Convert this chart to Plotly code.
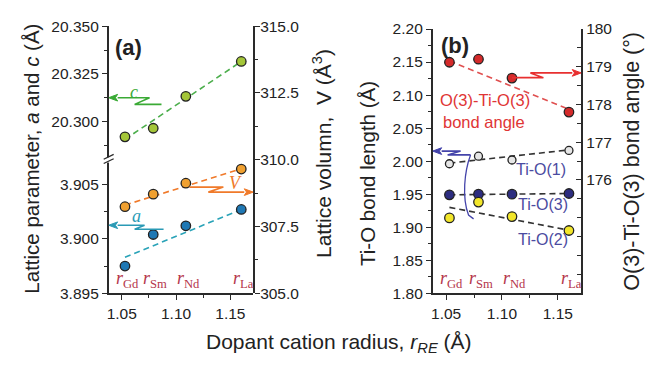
import plotly.graph_objects as go

W, H = 659, 368

# Ionic radii of the rare-earth dopants (Å)
radius = [1.053, 1.079, 1.109, 1.160]
dopants = ["Gd", "Sm", "Nd", "La"]

# Panel (a): lattice parameters c, a and cell volume V
c_param = [20.2920, 20.2965, 20.3132, 20.3315]
a_param = [3.8975, 3.9004, 3.9012, 3.9027]
volume = [308.24, 308.71, 309.12, 309.65]

# Linear trend lines, given at r_Gd and r_La
fit_x = [1.053, 1.160]
c_fit = [20.2907, 20.3315]
a_fit = [3.8983, 3.9027]
v_fit = [308.30, 309.66]

# Panel (b): Ti-O bond lengths and O(3)-Ti-O(3) bond angle
angle = [179.12, 179.20, 178.70, 177.80]
ti_o1 = [1.996, 2.0075, 2.0017, 2.0162]
ti_o3 = [1.949, 1.950, 1.950, 1.951]
ti_o2 = [1.914, 1.938, 1.916, 1.895]
angle_fit = [179.15, 177.87]
ti_o1_fit = [1.997, 2.017]
ti_o3_fit = [1.949, 1.951]
ti_o2_fit = [1.930, 1.8955]

# Tick values
x_ticks = [1.05, 1.10, 1.15]
c_ticks = [20.300, 20.325, 20.350]
a_ticks = [3.895, 3.900, 3.905]
v_ticks = [305.0, 307.5, 310.0, 312.5, 315.0]
bond_ticks = [1.80, 1.85, 1.90, 1.95, 2.00, 2.05, 2.10, 2.15, 2.20]
angle_ticks = [176, 177, 178, 179, 180]

X_RANGE = [1.038, 1.171]
C_RANGE = [20.279, 20.350]
A_RANGE = [3.895, 3.9071]
V_RANGE = [305, 315]
BOND_RANGE = [1.80, 2.20]
ANGLE_RANGE = [173, 180]

PA_LEFT, PA_RIGHT = 107, 252      # panel (a) plot edges, px
PB_LEFT, PB_RIGHT = 432, 581      # panel (b) plot edges, px
P_BOTTOM, BREAK, TOP_A, TOP_B = 298, 160, 18, 21


def px(x):
    return x / W


def py(y):
    return 1 - y / H


SANS = "Liberation Sans, Arial, sans-serif"
SERIF = "Liberation Serif, Times New Roman, serif"
AX = "#2a2a2a"
INK = "#222222"

base = dict(showline=True, linecolor=AX, linewidth=1.6, ticks="outside", ticklen=5,
            tickwidth=1.3, tickcolor=AX, showgrid=False, zeroline=False,
            tickfont=dict(family=SANS, size=15.5, color=INK))


def minor(d, t0, side="outside", length=3):
    return dict(dtick=d, tick0=t0, ticks=side, ticklen=length, tickwidth=1.1, tickcolor=AX)


fig = go.Figure()


def add_fit(xs, ys, color, xa, ya):
    fig.add_trace(go.Scatter(x=xs, y=ys, mode="lines", xaxis=xa, yaxis=ya,
                             line=dict(color=color, width=1.6, dash="6px,4px"),
                             hoverinfo="skip", showlegend=False))


def add_pts(xs, ys, fill, xa, ya, size=9.5):
    fig.add_trace(go.Scatter(x=xs, y=ys, mode="markers", xaxis=xa, yaxis=ya,
                             marker=dict(size=size, color=fill,
                                         line=dict(color="#222222", width=1.3)),
                             showlegend=False))


# (a)
add_fit(fit_x, c_fit, "#4cae4c", "x", "y2")
add_fit(fit_x, v_fit, "#f07a2a", "x", "y3")
add_fit(fit_x, a_fit, "#2aa3b8", "x", "y")
add_pts(radius, c_param, "#a4c639", "x", "y2")
add_pts(radius, volume, "#f0a030", "x", "y3")
add_pts(radius, a_param, "#1f78b4", "x", "y")

# (b)
add_fit(fit_x, angle_fit, "#e05050", "x2", "y5")
add_fit(fit_x, ti_o1_fit, "#333333", "x2", "y4")
add_fit(fit_x, ti_o3_fit, "#333333", "x2", "y4")
add_fit(fit_x, ti_o2_fit, "#333333", "x2", "y4")
add_pts(radius, angle, "#d42a2a", "x2", "y5")
add_pts(radius, ti_o1, "#e6e6e6", "x2", "y4", size=8)
add_pts(radius, ti_o3, "#2d2d80", "x2", "y4")
add_pts(radius, ti_o2, "#f2e62a", "x2", "y4")

xa_dom = [px(PA_LEFT), px(PA_RIGHT)]
xb_dom = [px(PB_LEFT), px(PB_RIGHT)]
x_lbl = [f"{v:.2f}" for v in x_ticks]

fig.update_layout(
    width=W, height=H, margin=dict(l=0, r=0, t=0, b=0),
    paper_bgcolor="white", plot_bgcolor="rgba(0,0,0,0)",
    font=dict(family=SANS, color=INK),
    xaxis=dict(base, domain=xa_dom, range=X_RANGE, anchor="y", tickvals=x_ticks,
               ticktext=x_lbl, minor=minor(0.025, 1.0)),
    xaxis3=dict(base, overlaying="x", side="top", anchor="y2", range=X_RANGE,
                tickvals=x_ticks, showticklabels=False, ticks="inside",
                minor=minor(0.0125, 1.0, "inside")),
    yaxis=dict(base, domain=[py(P_BOTTOM), py(BREAK)], range=A_RANGE, anchor="x",
               tickvals=a_ticks, ticktext=[f"{v:.3f}" for v in a_ticks],
               minor=minor(0.0025, 3.895)),
    yaxis2=dict(base, domain=[py(BREAK), py(TOP_A)], range=C_RANGE, anchor="x",
                tickvals=c_ticks, ticktext=[f"{v:.3f}" for v in c_ticks],
                minor=minor(0.0125, 20.275)),
    yaxis3=dict(base, domain=[py(P_BOTTOM), py(TOP_A)], range=V_RANGE, anchor="x",
                side="right", tickvals=v_ticks, ticktext=[f"{v:.1f}" for v in v_ticks],
                ticklabelstandoff=-3, minor=minor(1.25, 305)),
    xaxis2=dict(base, domain=xb_dom, range=X_RANGE, anchor="y4", tickvals=x_ticks,
                ticktext=x_lbl, minor=minor(0.025, 1.0)),
    xaxis4=dict(base, overlaying="x2", side="top", anchor="y4", range=X_RANGE,
                tickvals=x_ticks, showticklabels=False, ticks="inside",
                minor=minor(0.0125, 1.0, "inside")),
    yaxis4=dict(base, domain=[py(P_BOTTOM), py(TOP_B)], range=BOND_RANGE, anchor="x2",
                tickvals=bond_ticks, ticktext=[f"{v:.2f}" for v in bond_ticks],
                minor=minor(0.025, 1.80)),
    yaxis5=dict(base, overlaying="y4", side="right", anchor="x2", range=ANGLE_RANGE,
                tickvals=angle_ticks, ticktext=[str(v) for v in angle_ticks],
                ticks="inside", minor=minor(0.5, 173, "inside", 4)),
)

ann = []


def text(x, y, s, size=15, color=INK, family=SANS, angle=0, xref="paper", yref="paper"):
    ann.append(dict(x=x, y=y, xref=xref, yref=yref, text=s, showarrow=False,
                    textangle=angle, xanchor="center", yanchor="middle",
                    font=dict(family=family, size=size, color=color)))


shapes = []


def pointer(points, color, xref, yref, head_dx, head_dy):
    """Polyline ending at the last point, with a filled arrowhead there."""
    *body, tip = points
    back = (tip[0] + head_dx, tip[1])
    d = "M " + " L ".join(f"{x},{y}" for x, y in body + [back])
    shapes.append(dict(type="path", path=d, xref=xref, yref=yref,
                       line=dict(color=color, width=1.6), layer="above"))
    head = (f"M {tip[0]},{tip[1]} L {back[0]},{tip[1] + head_dy} "
            f"L {back[0] - head_dx * 0.25},{tip[1]} L {back[0]},{tip[1] - head_dy} Z")
    shapes.append(dict(type="path", path=head, xref=xref, yref=yref, fillcolor=color,
                       line=dict(color=color, width=1), layer="above"))


def per_px(rng, lo_px, hi_px):
    return (rng[1] - rng[0]) / (hi_px - lo_px)


ux_a = per_px(X_RANGE, PA_LEFT, PA_RIGHT)
ux_b = per_px(X_RANGE, PB_LEFT, PB_RIGHT)
uy_c = per_px(C_RANGE, BREAK, TOP_A)
uy_a = per_px(A_RANGE, BREAK, P_BOTTOM)
uy_v = per_px(V_RANGE, TOP_A, P_BOTTOM)
uy_b = per_px(BOND_RANGE, TOP_B, P_BOTTOM)
uy_ang = per_px(ANGLE_RANGE, TOP_B, P_BOTTOM)

# axis titles
text(px(30), py(157), "Lattice parameter, <i>a</i> and <i>c</i> (Å)", size=20.5, angle=-90)
text(px(321), py(152), "Lattice volumn, &nbsp;V (Å<sup>3</sup>)", size=21, angle=-90)
text(px(366), py(172), "Ti-O bond length (Å)", size=20.5, angle=-90)
text(px(632), py(160), "O(3)-Ti-O(3) bond angle (°)", size=21.5, angle=-90)
text(px(338), py(350), "Dopant cation radius, <i>r</i><sub><i>RE</i></sub> (Å)", size=21)

# panel tags
text(px(127), py(40), "<b>(a)</b>", size=22, color=INK)
text(px(454), py(38), "<b>(b)</b>", size=22, color=INK)

# dopant radius markers along the bottom of each panel
for xr in ("x", "x2"):
    for r, d in zip(radius, dopants):
        text(r + 0.002, py(284), f"<i>r</i><sub>{d}</sub>", size=18, color="#b5364b",
             family=SERIF, xref=xr)

# series labels in (a)
text(px(132), py(87), "<i>c</i>", size=18, color="#3aaa35", family=SERIF)
text(px(135), py(217), "<i>a</i>", size=18, color="#2a9ab5", family=SERIF)
text(px(234), py(182), "<i>V</i>", size=18, color="#f07a2a", family=SERIF)

# series labels in (b)
text(px(484), py(95), "O(3)-Ti-O(3)", size=16.5, color="#e03535")
text(px(483), py(118), "bond angle", size=16.5, color="#e03535")
text(px(541), py(168), "Ti-O(1)", size=16, color="#4b4ba0")
text(px(543), py(205), "Ti-O(3)", size=16, color="#4b4ba0")
text(px(543), py(242), "Ti-O(2)", size=16, color="#4b4ba0")

HEAD_LEN, HEAD_HALF = 9, 3.5

# c -> left axis
pointer([(1.0866, 20.3090), (1.0619, 20.3090), (1.0756, 20.3125), (X_RANGE[0], 20.3125)],
        "#3aaa35", "x", "y2", HEAD_LEN * ux_a, HEAD_HALF * uy_c)
# a -> left axis
pointer([(1.0885, 3.90088), (1.0619, 3.90088), (1.0710, 3.90125), (X_RANGE[0], 3.90125)],
        "#2a9ab5", "x", "y", HEAD_LEN * ux_a, HEAD_HALF * uy_a)
# V -> right axis
pointer([(1.1123, 308.975), (1.1435, 308.975), (1.1297, 308.786), (X_RANGE[1], 308.786)],
        "#f07a2a", "x", "y3", -HEAD_LEN * ux_a, HEAD_HALF * uy_v)
# bond angle -> right axis
pointer([(1.109, 178.712), (1.1371, 178.712), (1.1255, 178.838), (X_RANGE[1], 178.838)],
        "#e83030", "x2", "y5", -HEAD_LEN * ux_b, HEAD_HALF * uy_ang)
# bond lengths -> left axis, with bracket joining the three series
pointer([(1.0719, 2.0094), (1.0514, 2.0094), (1.0630, 2.0152), (X_RANGE[0], 2.0152)],
        "#4444aa", "x2", "y4", HEAD_LEN * ux_b, HEAD_HALF * uy_b)
shapes.append(dict(type="path", xref="x2", yref="y4", layer="above",
                   path="M 1.0719,2.0094 C 1.0665,1.985 1.0640,1.945 1.0701,1.9184 L 1.0746,1.9126",
                   line=dict(color="#4444aa", width=1.3)))

# broken-axis mark on the left axis of (a)
shapes.append(dict(type="rect", xref="paper", yref="paper", x0=px(104), x1=px(110),
                   y0=py(161), y1=py(155.5), fillcolor="white", line=dict(width=0),
                   layer="above"))
for y0 in (157.5, 162):
    shapes.append(dict(type="line", xref="paper", yref="paper", x0=px(102), x1=px(112),
                       y0=py(y0), y1=py(y0 - 5), line=dict(color=AX, width=1.3),
                       layer="above"))

fig.update_layout(annotations=ann, shapes=shapes)
fig.write_html("out.html")
